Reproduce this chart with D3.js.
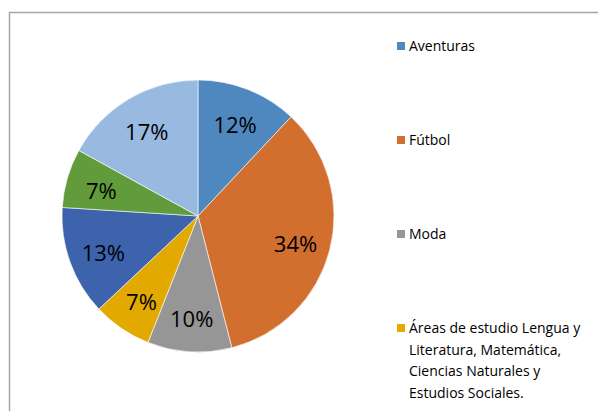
<!DOCTYPE html>
<html>
<head>
<meta charset="utf-8">
<script src="https://cdn.jsdelivr.net/npm/d3@7"></script>
<style>
  html, body { margin: 0; padding: 0; background: #fff; }
  svg { display: block; }
</style>
</head>
<body>
<svg id="chart" width="598" height="411"></svg>
<script>
// Data
const categories = [
  "Aventuras",
  "Fútbol",
  "Moda",
  "Áreas de estudio Lengua y Literatura, Matemática, Ciencias Naturales y Estudios Sociales.",
  "Categoría 5",
  "Categoría 6",
  "Categoría 7"
];
const values = [12, 34, 10, 7, 13, 7, 17];
const colors = ["#4F88BE", "#D26F2E", "#969696", "#E2A900", "#3C63AC", "#629B3C", "#98B9E0"];
// Legend entries visible in the reference (the rest are cut off at the bottom)
const legendLines = [
  ["Aventuras"],
  ["Fútbol"],
  ["Moda"],
  ["Áreas de estudio Lengua y", "Literatura, Matemática,", "Ciencias Naturales y", "Estudios Sociales."]
];

const svg = d3.select("#chart");
const W = 598, H = 411;
const font = "'Open Sans', 'Noto Sans', sans-serif";

// chart area border (extends past the right and bottom edges)
svg.append("rect")
  .attr("x", 9.5).attr("y", 12.5)
  .attr("width", W).attr("height", H)
  .attr("fill", "#fff")
  .attr("stroke", "#A6A6A6")
  .attr("stroke-width", 1.5);

const cx = 198, cy = 216, R = 136;
const total = d3.sum(values);
const data = categories.map((c, i) => ({ name: c, value: values[i], color: colors[i] }));

const pie = d3.pie().value(d => d.value).sort(null);
const arc = d3.arc().innerRadius(0).outerRadius(R);
const labelArc = d3.arc().innerRadius(R * 0.74).outerRadius(R * 0.74);

const g = svg.append("g").attr("transform", `translate(${cx},${cy})`);
const arcs = pie(data);

g.selectAll("path.slice")
  .data(arcs)
  .enter().append("path")
  .attr("class", "slice")
  .attr("d", arc)
  .attr("fill", d => d.data.color)
  .attr("stroke", "#fff")
  .attr("stroke-width", 0.6);

g.selectAll("text.lbl")
  .data(arcs)
  .enter().append("text")
  .attr("class", "lbl")
  .attr("transform", d => {
    const [x, y] = labelArc.centroid(d);
    return `translate(${x},${y + 3})`;
  })
  .attr("text-anchor", "middle")
  .attr("dy", "0.36em")
  .attr("font-family", font)
  .attr("font-size", 22)
  .attr("fill", "#000")
  .text(d => Math.round(d.data.value / total * 100) + "%");

// Legend
const legY = d3.scaleLinear().domain([0, 1]).range([46, 140]);
const leg = svg.append("g");
legendLines.forEach((lines, i) => {
  const y = legY(i);
  leg.append("rect")
    .attr("x", 397).attr("y", y - 4)
    .attr("width", 8).attr("height", 8)
    .attr("fill", colors[i]);
  const t = leg.append("text")
    .attr("font-family", font)
    .attr("font-size", 14)
    .attr("fill", "#000");
  lines.forEach((ln, j) => {
    t.append("tspan")
      .attr("x", 409)
      .attr("y", y + 5 + j * 21.7)
      .text(ln);
  });
});
</script>
</body>
</html>
